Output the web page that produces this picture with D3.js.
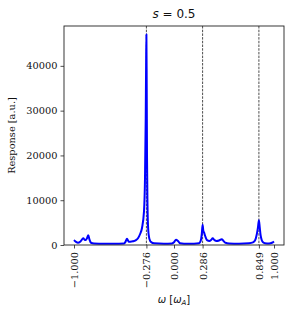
<!doctype html>
<html lang="en">
<head>
<meta charset="UTF-8">
<title>Response s = 0.5</title>
<script src="https://cdn.jsdelivr.net/npm/d3@7"></script>
<style>
  body { margin: 0; background: #fff; }
  svg text { fill: #111; }
  .tick text { font-family: "DejaVu Serif", serif; font-size: 9.8px; }
</style>
</head>
<body>
<div id="chart"></div>
<script>
// spectrum
const omega = [-1.0, -0.98, -0.96, -0.935, -0.907, -0.895, -0.883, -0.87, -0.857, -0.845, -0.83, -0.80, -0.70, -0.60, -0.50, -0.485,
  -0.47, -0.455, -0.445, -0.42, -0.40, -0.38, -0.36, -0.34, -0.32, -0.30, -0.29, -0.283, -0.279, -0.276, -0.273, -0.27, -0.265,
  -0.258, -0.25, -0.24, -0.225, -0.20, -0.10, -0.02, 0.0, 0.02, 0.04, 0.06, 0.10, 0.20, 0.25, 0.265, 0.278, 0.286, 0.293, 0.30,
  0.315, 0.33, 0.355, 0.37, 0.387, 0.405, 0.427, 0.45, 0.477, 0.495, 0.515, 0.55, 0.65, 0.75, 0.79, 0.81, 0.828, 0.84, 0.849,
  0.857, 0.866, 0.877, 0.89, 0.91, 0.95, 0.98, 1.0];
const response = [1100, 700, 500, 800, 1500, 1200, 1100, 1500, 2200, 1200, 500, 350, 300, 300, 350, 700,
  1400, 800, 700, 800, 900, 1100, 1500, 2400, 3800, 7500, 15000, 28000, 40000, 47000, 36000, 20000, 9000,
  3500, 1800, 1000, 600, 400, 300, 350, 600, 1200, 900, 400, 300, 300, 400, 800, 2500, 4500, 3200, 2800,
  1800, 1100, 900, 1100, 1500, 1100, 900, 1000, 1300, 900, 500, 350, 300, 400, 600, 1000, 2400, 4000, 5500,
  4000, 2200, 1100, 600, 400, 350, 500, 800];
const markers = [-0.276, 0.286, 0.849];
const xTicks = [-1.0, -0.276, 0.0, 0.286, 0.849, 1.0];
const yTicks = [0, 10000, 20000, 30000, 40000];

const W = 293, H = 316;
const m = { left: 64, right: 9, top: 26, bottom: 71 };

const svg = d3.select("#chart").append("svg")
  .attr("width", W).attr("height", H);

const x = d3.scaleLinear().domain([-1.1, 1.1]).range([m.left, W - m.right]);
const y = d3.scaleLinear().domain([0, 48900]).range([H - m.bottom, m.top]);

// dashed markers
svg.append("g").selectAll("line").data(markers).join("line")
  .attr("x1", d => x(d)).attr("x2", d => x(d))
  .attr("y1", m.top).attr("y2", H - m.bottom)
  .attr("stroke", "#000").attr("stroke-width", 0.7)
  .attr("stroke-dasharray", "2.5,1.2");

const pts = omega.map((w, i) => [w, response[i]]);
svg.append("path").datum(pts)
  .attr("fill", "none").attr("stroke", "#0000ff").attr("stroke-width", 2)
  .attr("stroke-linejoin", "round")
  .attr("d", d3.line().x(d => x(d[0])).y(d => y(d[1])).curve(d3.curveMonotoneX));

// frame
svg.append("rect")
  .attr("x", m.left).attr("y", m.top)
  .attr("width", W - m.left - m.right).attr("height", H - m.top - m.bottom)
  .attr("fill", "none").attr("stroke", "#222").attr("stroke-width", 0.9);

const xAxis = svg.append("g").attr("transform", `translate(0,${H - m.bottom})`)
  .call(d3.axisBottom(x).tickValues(xTicks).tickSize(3.5).tickPadding(3)
    .tickFormat(d => (d < 0 ? "\u2212" : "") + Math.abs(d).toFixed(3)));
xAxis.selectAll("text")
  .attr("transform", "rotate(-90)")
  .attr("text-anchor", "end")
  .attr("x", -7).attr("y", 0).attr("dy", "0.35em");

const yAxis = svg.append("g").attr("transform", `translate(${m.left},0)`)
  .call(d3.axisLeft(y).tickValues(yTicks).tickSize(3.5).tickPadding(3).tickFormat(d3.format("d")));

[xAxis, yAxis].forEach(g => {
  g.select(".domain").remove();
  g.selectAll(".tick line").attr("stroke", "#222").attr("stroke-width", 0.8);
});

// title
const title = svg.append("text")
  .attr("x", x(0)).attr("y", 18).attr("text-anchor", "middle")
  .style("font-family", "DejaVu Sans").style("font-size", "12px");
title.append("tspan").style("font-style", "italic").text("s");
title.append("tspan").text(" = 0.5");

// axis labels
svg.append("text")
  .attr("transform", `translate(15,${(m.top + H - m.bottom) / 2}) rotate(-90)`)
  .attr("text-anchor", "middle")
  .style("font-family", "DejaVu Serif").style("font-size", "9.8px")
  .text("Response [a.u.]");

const xl = svg.append("text")
  .attr("x", x(0)).attr("y", 303).attr("text-anchor", "middle")
  .style("font-family", "DejaVu Sans").style("font-size", "10px");
xl.append("tspan").style("font-style", "italic").text("\u03c9");
xl.append("tspan").text(" [");
xl.append("tspan").style("font-style", "italic").text("\u03c9");
xl.append("tspan").style("font-style", "italic").style("font-size", "7px").attr("dy", 2).text("A");
xl.append("tspan").attr("dy", -2).text("]");
</script>
</body>
</html>
